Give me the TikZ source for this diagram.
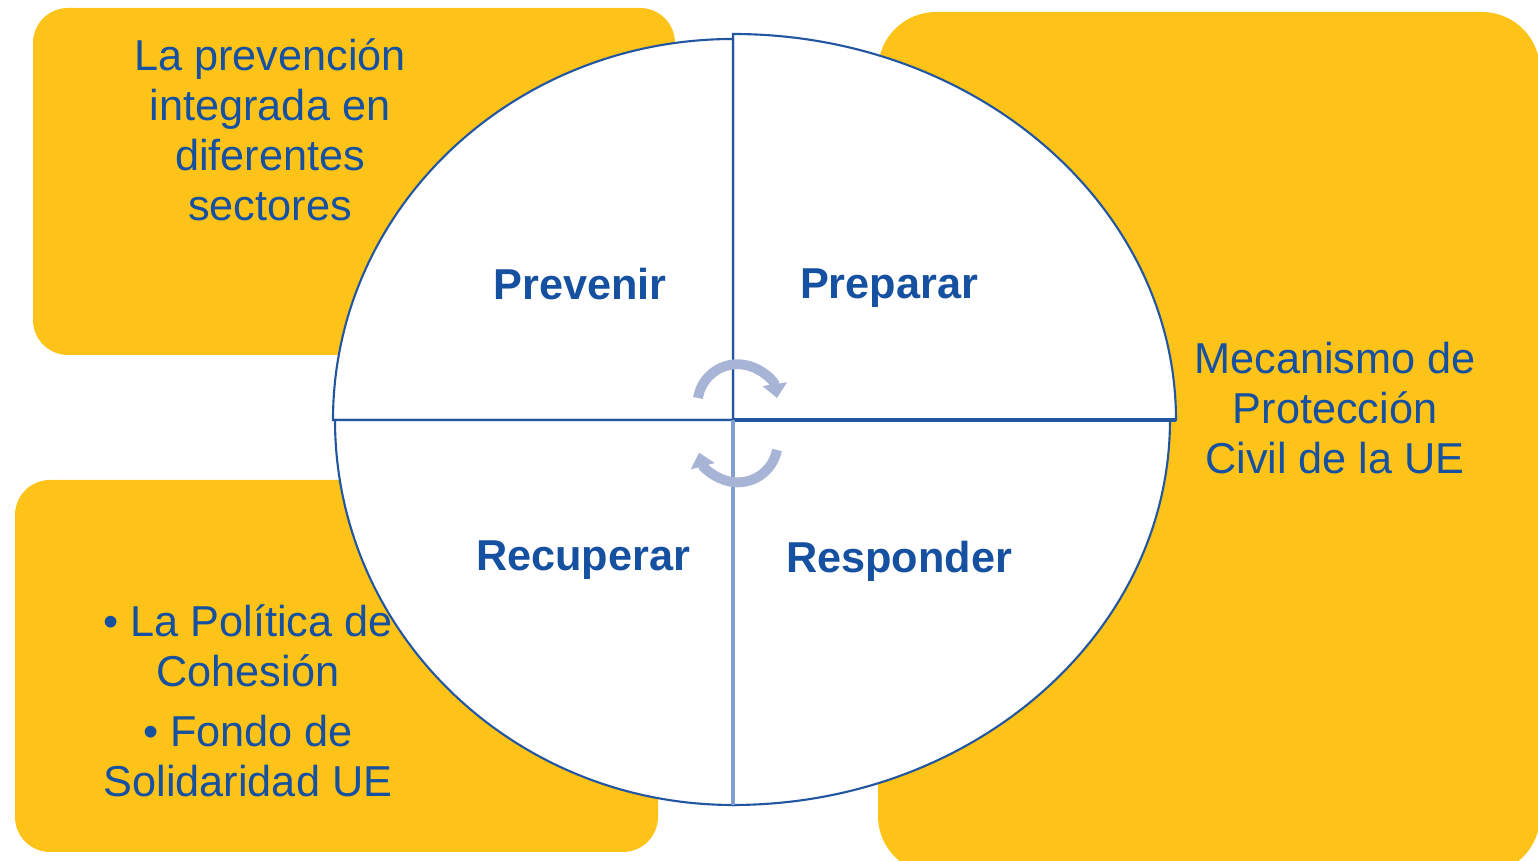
\documentclass[tikz,border=0pt]{standalone}
\usepackage{fontspec}
\setmainfont{Liberation Sans}
\usetikzlibrary{arrows.meta}
\definecolor{boxyellow}{RGB}{253,195,24}
\definecolor{ringblue}{RGB}{35,86,160}
\definecolor{textblue}{RGB}{22,80,160}
\definecolor{paleblue}{RGB}{128,158,206}
\definecolor{arrowgray}{RGB}{168,180,214}

\begin{document}
\begin{tikzpicture}[x=0.01cm, y=0.01cm,
    every node/.append style={text=textblue, align=center, font=\fontsize{12.3}{14.2}\selectfont},
    yellowbox/.style={fill=boxyellow, rounded corners=0.35cm},
    quarter/.style={fill=white, draw=ringblue, line width=0.6pt},
    phase/.style={anchor=base, font=\fontsize{12.3}{14.2}\selectfont\bfseries},
    turn/.style={draw=arrowgray, line width=2.8pt, -{Triangle[width=0.24cm, length=0.14cm]}}]
    \clip (0,0) rectangle (1538,861);
    \fill[yellowbox] (33,506) rectangle (675,853);
    \fill[yellowbox] (15,9) rectangle (658,381);
    \fill[yellowbox, rounded corners=0.58cm] (878,-13) rectangle (1540,849);
    \coordinate (C) at (733,441);
    \coordinate (E) at (1176,441);
    \coordinate (S) at (733,56);
    \draw[quarter] (C) -- ++(443,0) arc[start angle=0, end angle=90, x radius=443, y radius=386] -- cycle;
    \draw[quarter] (C) -- ++(0,381) arc[start angle=90, end angle=180, x radius=400, y radius=381] -- cycle;
    \draw[quarter] (C) -- ++(-398,0) arc[start angle=180, end angle=270, x radius=398, y radius=385] -- cycle;
    \draw[quarter] (C) -- ++(0,-385) arc[start angle=270, end angle=360, x radius=437, y radius=385] -- cycle;
    \draw[ringblue, line width=1.2pt] (C) -- (E);
    \draw[paleblue, line width=1pt] (C) -- (S);
    \draw[turn] (698,463) arc[start angle=171, end angle=9, radius=40];
    \draw[turn] (777,411) arc[start angle=-11, end angle=-165, radius=40];
    \node[phase] (Q1) at (580,561) {Prevenir};
    \node[phase] (Q2) at (889,562) {Preparar};
    \node[phase] (Q3) at (583,290) {Recuperar};
    \node[phase] (Q4) at (899,288) {Responder};
    \node (B1) at (270,731) {La prevención\\integrada en\\diferentes\\sectores};
    \node (B2) at (248,160) {\textbullet\ La Política de\\Cohesión\\[0.1cm]\textbullet\ Fondo de\\Solidaridad UE};
    \node (B3) at (1335,453) {Mecanismo de\\Protección\\Civil de la UE};
  \end{tikzpicture}
\end{document}
